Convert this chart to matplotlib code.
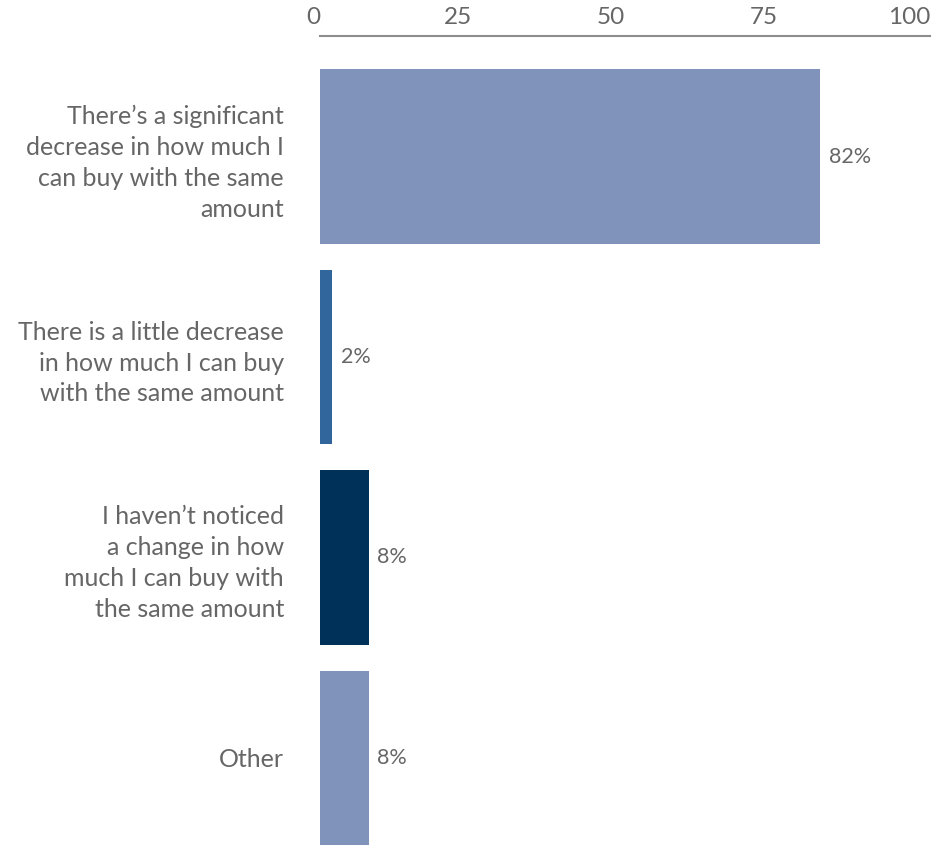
import matplotlib.pyplot as plt

categories = [
    "There\u2019s a significant\ndecrease in how much I\ncan buy with the same\namount",
    "There is a little decrease\nin how much I can buy\nwith the same amount",
    "I haven\u2019t noticed\na change in how\nmuch I can buy with\nthe same amount",
    "Other",
]
values = [82, 2, 8, 8]
colors = ["#7f93bb", "#31669d", "#003159", "#7f93bb"]
ticks = [0, 25, 50, 75, 100]

plt.rcParams['font.family'] = ['Lato', 'DejaVu Sans']
text_color = "#666666"

fig = plt.figure(figsize=(9.47, 8.46), dpi=100)
ax = fig.add_axes([0.338, 0.0, 0.644, 0.957])

pos = range(len(values))
ax.barh(pos, values, height=0.87, color=colors)
for i, v in enumerate(values):
    ax.text(v + 1.4, i, f"{v}%", va="center", ha="left", fontsize=15.5, color=text_color)

ax.set_xlim(0, 100)
ax.set_ylim(3.44, -0.6)
ax.xaxis.tick_top()
ax.set_xticks(ticks)
ax.set_xticklabels([str(t) for t in ticks], fontsize=17.5, color=text_color, ha="right")
ax.tick_params(axis="x", length=0, pad=6)
ax.set_yticks(list(pos))
ax.set_yticklabels(categories, fontsize=18, color=text_color, ha="right",
                   linespacing=1.42)
ax.tick_params(axis="y", length=0, pad=26)

for side in ["right", "bottom", "left"]:
    ax.spines[side].set_visible(False)
ax.spines["top"].set_color("#8c8c8c")
ax.spines["top"].set_linewidth(1.5)

plt.savefig("out.png", dpi=100)
plt.close()
